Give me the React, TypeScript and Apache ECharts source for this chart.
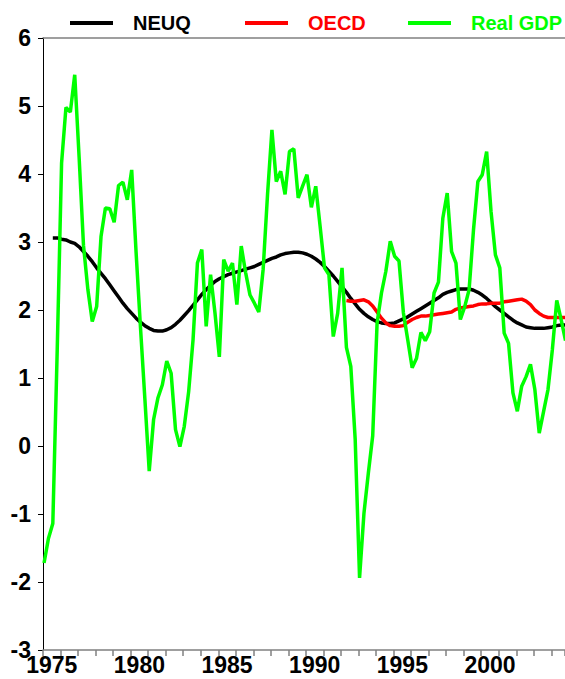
import React, { useEffect, useRef } from "react";
import * as echarts from "echarts";

// Quarterly data, first point = 1975 Q1
const START_YEAR = 1975;
const QUARTER_OFFSET = 0.06;

const xLabelYears = [1975, 1980, 1985, 1990, 1995, 2000];
const yTickValues = [-3, -2, -1, 0, 1, 2, 3, 4, 5, 6];

const seriesNames = ["NEUQ", "OECD", "Real GDP"];
const seriesColors = ["#000000", "#ff0000", "#00ff00"];

// Real GDP, y/y %, 1975Q1 .. 2004Q4
const realGdp = [
  -1.72, -1.36, -1.14, 1.4, 4.16, 4.98, 4.91, 5.46, 4.25, 2.95,
  2.3, 1.83, 2.05, 3.08, 3.5, 3.49, 3.29, 3.83, 3.88, 3.62,
  4.06, 2.85, 1.75, 0.7, -0.37, 0.39, 0.71, 0.9, 1.25, 1.07,
  0.24, -0.01, 0.29, 0.8, 1.56, 2.69, 2.89, 1.76, 2.52, 1.96,
  1.31, 2.74, 2.57, 2.69, 2.08, 2.94, 2.55, 2.22, 2.1, 1.97,
  2.6, 3.7, 4.65, 3.89, 4.04, 3.7, 4.33, 4.37, 3.65, 3.82,
  3.99, 3.51, 3.82, 3.23, 2.62, 2.52, 1.61, 1.95, 2.62, 1.45,
  1.17, 0.1, -1.94, -0.99, -0.4, 0.15, 1.81, 2.25, 2.57, 3.01,
  2.79, 2.72, 1.96, 1.56, 1.15, 1.29, 1.67, 1.55, 1.68, 2.25,
  2.41, 3.35, 3.72, 2.86, 2.69, 1.86, 2.05, 2.3, 3.18, 3.89,
  3.99, 4.33, 3.45, 2.81, 2.62, 1.66, 1.51, 0.78, 0.51, 0.88,
  1.02, 1.2, 0.83, 0.19, 0.51, 0.83, 1.42, 2.14, 1.86, 1.55,
];

// NEUQ, starts 1975Q3 (quarter index 2)
const neuqStart = 2;
const neuq = [
  3.06, 3.06, 3.04, 3.03, 3.0, 2.98, 2.93, 2.86, 2.79, 2.71,
  2.62, 2.54, 2.46, 2.37, 2.28, 2.19, 2.1, 2.02, 1.95, 1.88,
  1.82, 1.77, 1.73, 1.7, 1.69, 1.69, 1.71, 1.74, 1.79, 1.85,
  1.92, 1.99, 2.07, 2.15, 2.23, 2.3, 2.36, 2.42, 2.46, 2.49,
  2.52, 2.54, 2.56, 2.58, 2.6, 2.62, 2.64, 2.67, 2.7, 2.73,
  2.76, 2.78, 2.81, 2.83, 2.84, 2.85, 2.85, 2.84, 2.82, 2.79,
  2.75, 2.7, 2.64, 2.57, 2.5, 2.42, 2.34, 2.26, 2.17, 2.09,
  2.01, 1.95, 1.9, 1.86, 1.83, 1.81, 1.8, 1.8, 1.81, 1.84,
  1.87, 1.9, 1.94, 1.98, 2.02, 2.06, 2.1, 2.14, 2.18, 2.23,
  2.26, 2.28, 2.3, 2.31, 2.31, 2.31, 2.29, 2.26, 2.22, 2.17,
  2.11, 2.05, 2.0, 1.95, 1.9, 1.85, 1.81, 1.78, 1.75, 1.74,
  1.73, 1.73, 1.73, 1.74, 1.75, 1.77, 1.78, 1.78,
];

// OECD, starts 1992Q2 (quarter index 69)
const oecdStart = 69;
const oecd = [
  2.14, 2.13, 2.13, 2.14, 2.15, 2.12, 2.06, 1.97, 1.88, 1.81,
  1.77, 1.76, 1.76, 1.77, 1.82, 1.86, 1.89, 1.91, 1.91, 1.92,
  1.93, 1.94, 1.95, 1.96, 1.97, 2.01, 2.03, 2.04, 2.05, 2.06,
  2.08, 2.09, 2.09, 2.1, 2.1, 2.1, 2.12, 2.13, 2.14, 2.15,
  2.16, 2.13, 2.08, 2.0, 1.95, 1.91, 1.89, 1.89, 1.89, 1.89,
  1.89,
];

const FONT = 'Arial, "Liberation Sans", Helvetica, sans-serif';
const X_MIN = 1975;
const X_MAX = 2004.78;

function toPairs(values: number[], start: number) {
  return values.map((v, i) => [START_YEAR + (start + i) / 4 + QUARTER_OFFSET, v]);
}

export default function App() {
  const ref = useRef<HTMLDivElement>(null);

  useEffect(() => {
    document.body.style.margin = "0";
    if (!ref.current) return;
    const chart = echarts.init(ref.current, undefined, { renderer: "svg" });

    const legendLefts = [70, 245, 408];
    const legends = seriesNames.map((name, i) => ({
      show: true,
      left: legendLefts[i],
      top: 13,
      orient: "horizontal",
      icon: "rect",
      itemWidth: 43,
      itemHeight: 4,
      padding: 0,
      data: [name],
      selectedMode: false,
      textStyle: {
        color: seriesColors[i],
        fontSize: 20,
        fontWeight: "bold",
        fontFamily: FONT,
        padding: [0, 0, 0, 15],
      },
    }));

    const option: any = {
      animation: false,
      backgroundColor: "#ffffff",
      legend: legends,
      grid: { left: 43, right: 0, top: 38, bottom: 29, containLabel: false },
      xAxis: [
        {
          type: "value",
          min: X_MIN,
          max: X_MAX,
          interval: 1,
          position: "bottom",
          axisLine: { show: true, onZero: false, lineStyle: { color: "#808080", width: 1.5 } },
          axisTick: { show: true, length: 6, lineStyle: { color: "#808080", width: 1.5 } },
          axisLabel: {
            show: true,
            customValues: xLabelYears.map((y) => y + 0.5),
            formatter: (v: number) => String(Math.floor(v)),
            fontSize: 23,
            lineHeight: 17,
            fontWeight: "bold",
            color: "#000",
            fontFamily: FONT,
            margin: 6,
          },
          splitLine: { show: false },
        },
        {
          type: "value",
          min: X_MIN,
          max: X_MAX,
          position: "top",
          axisLine: { show: true, onZero: false, lineStyle: { color: "#808080", width: 1.5 } },
          axisTick: { show: false },
          axisLabel: { show: false },
          splitLine: { show: false },
        },
      ],
      yAxis: {
        type: "value",
        min: yTickValues[0],
        max: yTickValues[yTickValues.length - 1],
        interval: 1,
        axisLine: { show: true, onZero: false, lineStyle: { color: "#000", width: 1 } },
        axisTick: { show: true, length: 5, lineStyle: { color: "#000" } },
        axisLabel: {
          fontSize: 23,
          lineHeight: 17,
          fontWeight: "bold",
          color: "#000",
          fontFamily: FONT,
          margin: 12,
        },
        splitLine: { show: false },
      },
      series: [
        { data: toPairs(neuq, neuqStart) },
        { data: toPairs(oecd, oecdStart) },
        { data: toPairs(realGdp, 0) },
      ].map((s, i) => ({
        name: seriesNames[i],
        type: "line",
        xAxisIndex: 0,
        showSymbol: false,
        symbol: "none",
        color: seriesColors[i],
        lineStyle: { color: seriesColors[i], width: 3.5 },
        data: s.data,
      })),
    };

    chart.setOption(option);
    return () => chart.dispose();
  }, []);

  return <div ref={ref} style={{ width: 565, height: 679 }} />;
}
